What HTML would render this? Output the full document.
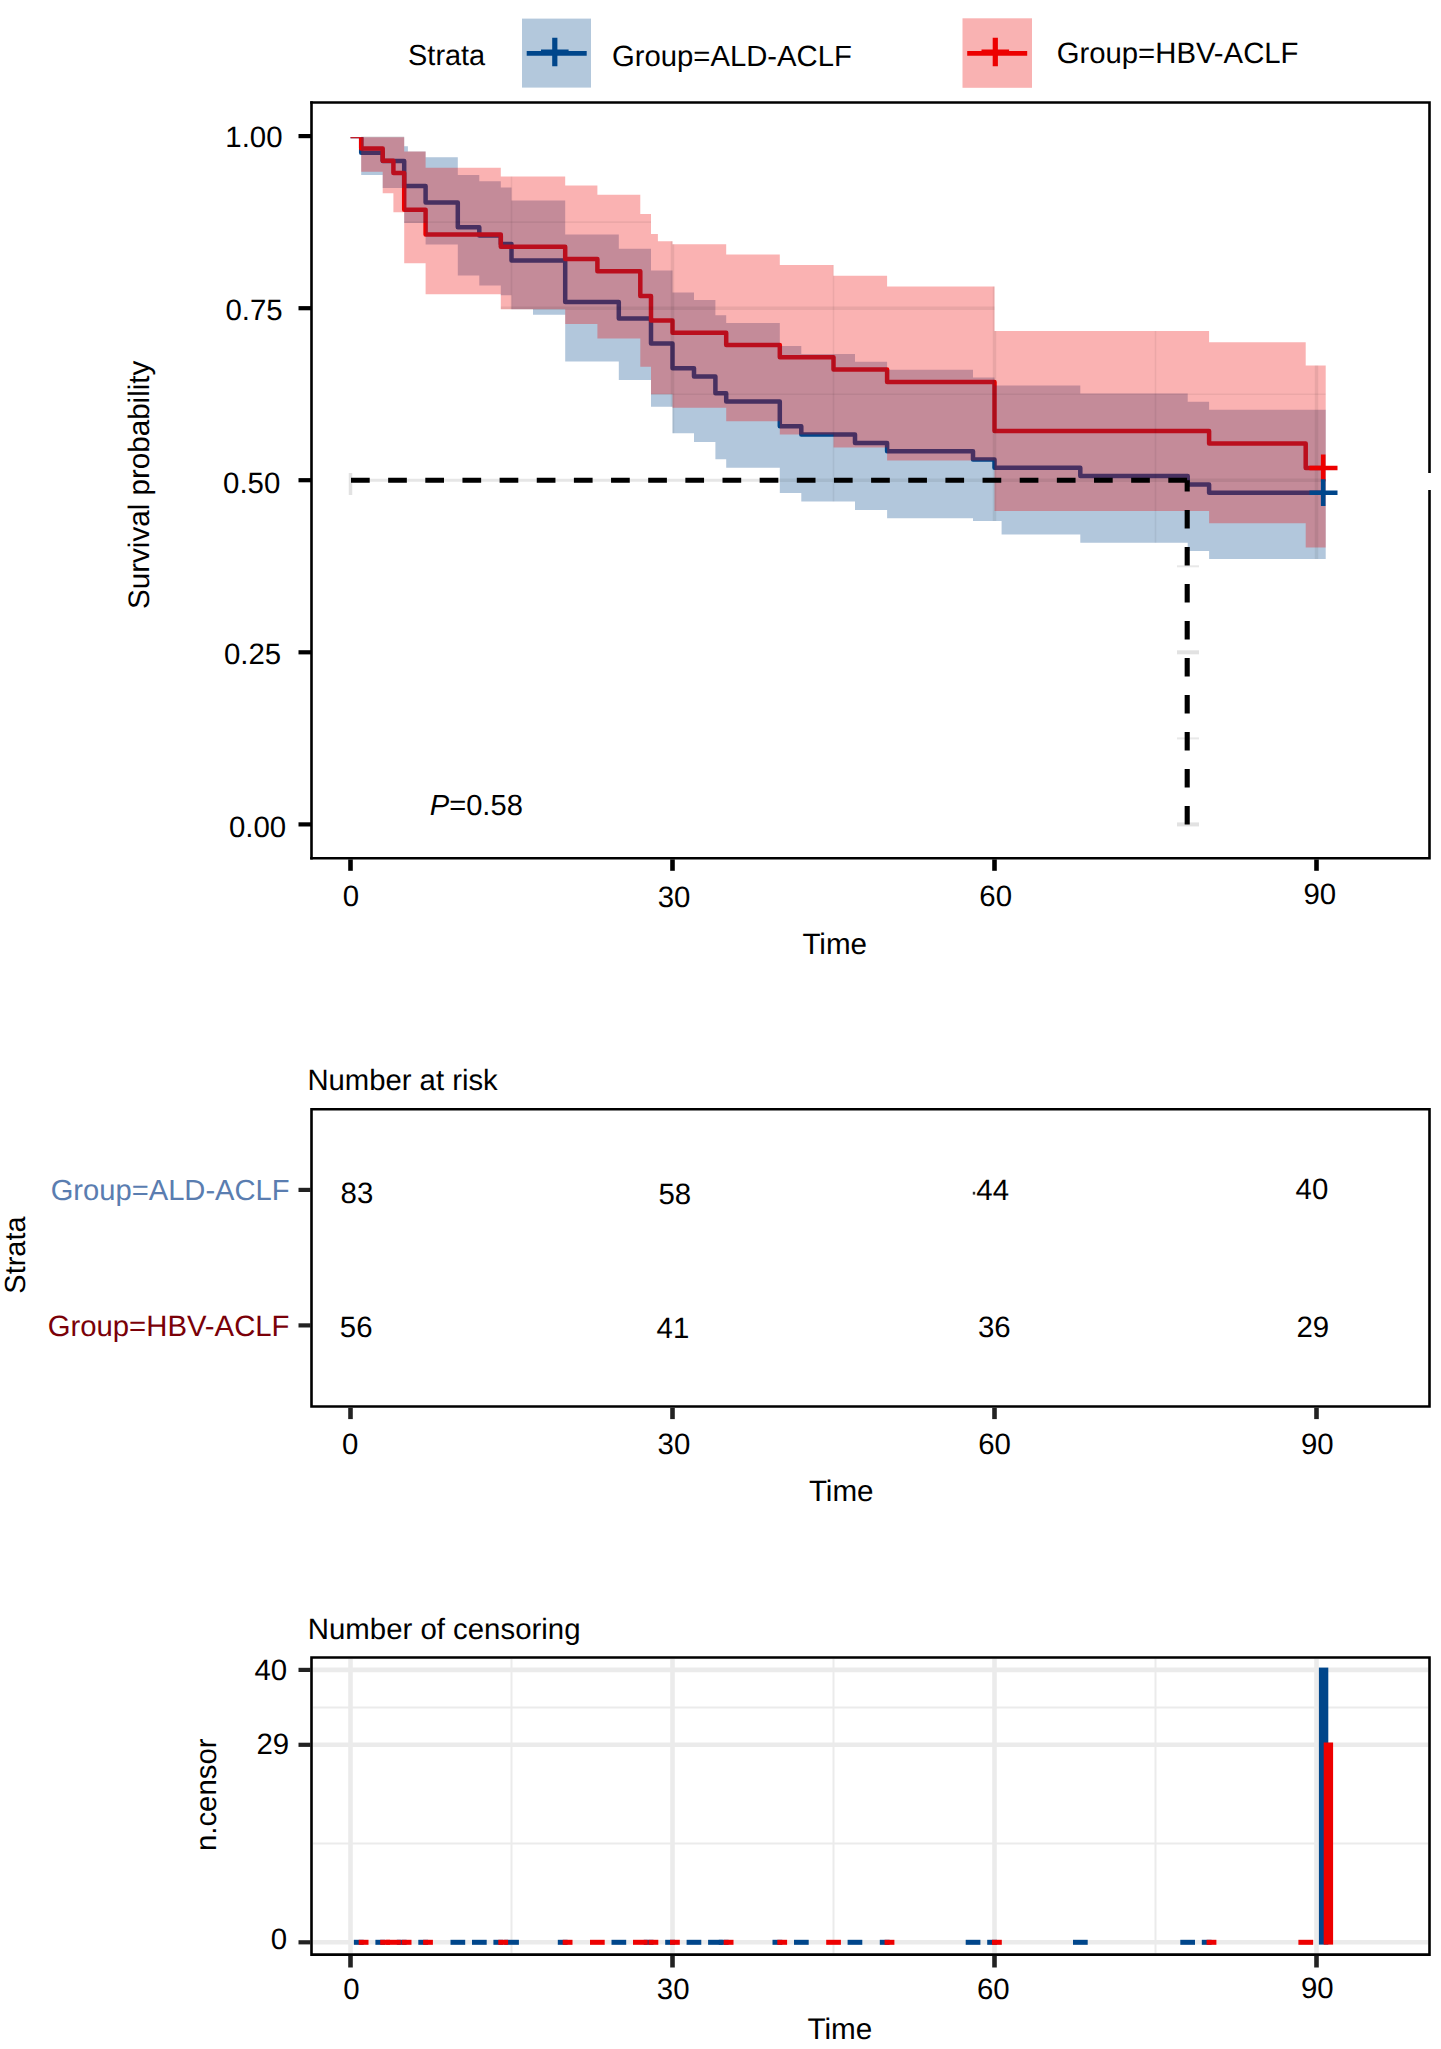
<!DOCTYPE html>
<html><head><meta charset="utf-8"><title>Survival plot</title>
<style>html,body{margin:0;padding:0;background:#fff;width:1441px;height:2049px;overflow:hidden;position:relative;font-family:"Liberation Sans",sans-serif;}
svg text{text-rendering:geometricPrecision;}</style>
</head><body>
<svg width="1441" height="2049" viewBox="0 0 1441 2049" style="position:absolute;left:0;top:0">
<rect x="0" y="0" width="1441" height="2049" fill="#ffffff"/>
<rect x="522" y="18.6" width="69" height="69" fill="#B3C8DC"/>
<rect x="962.5" y="18.3" width="69.5" height="69.5" fill="#F9B2B2"/>
<path d="M526.7,53.4H586.7" stroke="#00468B" stroke-width="4.6"/>
<path d="M541,52.2H568.6 M554.8,37.8V66.2" stroke="#00468B" stroke-width="5.2"/>
<path d="M967.2,53.4H1027.2" stroke="#ED0000" stroke-width="4.6"/>
<path d="M981.5,52.2H1009.1 M995.3,37.8V66.2" stroke="#ED0000" stroke-width="5.2"/>
<defs><clipPath id="bandclip"><path d="M350.5,136.1L361.2,136.1L361.2,136.1L382.7,136.1L382.7,136.1L404.2,136.1L404.2,146.3L407.9,146.3L407.9,151.4L425.6,151.4L425.6,157.2L457.8,157.2L457.8,174.9L479.3,174.9L479.3,181.2L500.8,181.2L500.8,187.5L511.5,187.5L511.5,200.5L533,200.5L533,200.5L565.2,200.5L565.2,234.6L618.8,234.6L618.8,248.8L651,248.8L651,270.5L672.5,270.5L672.5,292.6L694,292.6L694,300.1L715.4,300.1L715.4,315.3L726.2,315.3L726.2,322.9L779.8,322.9L779.8,346.1L801.3,346.1L801.3,353.9L855,353.9L855,361.7L887.1,361.7L887.1,369.7L973,369.7L973,377.6L994.5,377.6L994.5,385.6L1001.6,385.6L1001.6,385.6L1080.3,385.6L1080.3,393.6L1187.7,393.6L1187.7,401.7L1209.1,401.7L1209.1,409.8L1325.7,409.8L1325.7,559L1209.1,559L1209.1,550.9L1187.7,550.9L1187.7,542.8L1080.3,542.8L1080.3,534.6L1001.6,534.6L1001.6,521.1L994.5,521.1L994.5,521.1L973,521.1L973,518.2L887.1,518.2L887.1,509.9L855,509.9L855,501.5L801.3,501.5L801.3,493.1L779.8,493.1L779.8,467.7L726.2,467.7L726.2,459.2L715.4,459.2L715.4,441.9L694,441.9L694,433.2L672.5,433.2L672.5,406.8L651,406.8L651,379.9L618.8,379.9L618.8,361.6L565.2,361.6L565.2,314.7L533,314.7L533,309.2L511.5,309.2L511.5,295.3L500.8,295.3L500.8,285.5L479.3,285.5L479.3,275.5L457.8,275.5L457.8,244.6L425.6,244.6L425.6,223.1L407.9,223.1L407.9,223.1L404.2,223.1L404.2,188L382.7,188L382.7,175L361.2,175L361.2,136.1L350.5,136.1Z"/><path d="M350.5,136.1L361.2,136.1L361.2,136.1L382.7,136.1L382.7,136.1L393.4,136.1L393.4,136.1L404.2,136.1L404.2,151.5L425.6,151.5L425.6,167.8L500.8,167.8L500.8,176.6L565.2,176.6L565.2,185.6L597.4,185.6L597.4,194.8L640.3,194.8L640.3,214L651,214L651,234L657.9,234L657.9,241.2L672.5,241.2L672.5,244.2L726.2,244.2L726.2,254.6L779.8,254.6L779.8,265.1L833.5,265.1L833.5,275.7L887.1,275.7L887.1,286.5L994.5,286.5L994.5,330.9L1209.1,330.9L1209.1,342.3L1305.7,342.3L1305.7,365.5L1325.7,365.5L1325.7,547.6L1305.7,547.6L1305.7,523.2L1209.1,523.2L1209.1,510.9L994.5,510.9L994.5,460.4L887.1,460.4L887.1,447.5L833.5,447.5L833.5,434.4L779.8,434.4L779.8,421.2L726.2,421.2L726.2,407.8L672.5,407.8L672.5,394.3L657.9,394.3L657.9,394.3L651,394.3L651,366.8L640.3,366.8L640.3,338.5L597.4,338.5L597.4,324L565.2,324L565.2,309.3L500.8,309.3L500.8,294.3L425.6,294.3L425.6,263.2L404.2,263.2L404.2,212.3L393.4,212.3L393.4,193.3L382.7,193.3L382.7,171.8L361.2,171.8L361.2,136.1L350.5,136.1Z"/></clipPath><clipPath id="topclip"><rect x="313" y="137.3" width="1115" height="719"/></clipPath></defs>
<path d="M350.5,480.2H779.8" stroke="#e6e6e6" stroke-width="3"/>
<g clip-path="url(#topclip)">
<path d="M350.5,136.1H361.2V152.7H382.7V161H404.2V185.9H425.6V202.4H457.8V227.3H479.3V235.6H500.8V243.9H511.5V260.5H565.2V302H618.8V318.5H651V343.4H672.5V368.3H694V376.6H715.4V393.2H726.2V401.5H779.8V426.3H801.3V434.6H855V442.9H887.1V451.2H973V459.5H994.5V467.8H1080.3V476.1H1187.7V484.4H1209.1V492.7H1324" fill="none" stroke="#00468B" stroke-width="4.5" stroke-linejoin="round" stroke-linecap="butt"/>
<path d="M350.5,136.1H361.2V148.4H382.7V160.7H393.4V173H404.2V209.8H425.6V234.4H500.8V246.7H565.2V259H597.4V271.3H640.3V295.9H651V320.5H672.5V332.8H726.2V345H779.8V357.3H833.5V369.6H887.1V381.9H994.5V431.1H1209.1V443.4H1305.7V468H1324" fill="none" stroke="#ED0000" stroke-width="4.5" stroke-linejoin="round" stroke-linecap="butt"/>
<path d="M350.5,136.1L361.2,136.1L361.2,136.1L382.7,136.1L382.7,136.1L404.2,136.1L404.2,146.3L407.9,146.3L407.9,151.4L425.6,151.4L425.6,157.2L457.8,157.2L457.8,174.9L479.3,174.9L479.3,181.2L500.8,181.2L500.8,187.5L511.5,187.5L511.5,200.5L533,200.5L533,200.5L565.2,200.5L565.2,234.6L618.8,234.6L618.8,248.8L651,248.8L651,270.5L672.5,270.5L672.5,292.6L694,292.6L694,300.1L715.4,300.1L715.4,315.3L726.2,315.3L726.2,322.9L779.8,322.9L779.8,346.1L801.3,346.1L801.3,353.9L855,353.9L855,361.7L887.1,361.7L887.1,369.7L973,369.7L973,377.6L994.5,377.6L994.5,385.6L1001.6,385.6L1001.6,385.6L1080.3,385.6L1080.3,393.6L1187.7,393.6L1187.7,401.7L1209.1,401.7L1209.1,409.8L1325.7,409.8L1325.7,559L1209.1,559L1209.1,550.9L1187.7,550.9L1187.7,542.8L1080.3,542.8L1080.3,534.6L1001.6,534.6L1001.6,521.1L994.5,521.1L994.5,521.1L973,521.1L973,518.2L887.1,518.2L887.1,509.9L855,509.9L855,501.5L801.3,501.5L801.3,493.1L779.8,493.1L779.8,467.7L726.2,467.7L726.2,459.2L715.4,459.2L715.4,441.9L694,441.9L694,433.2L672.5,433.2L672.5,406.8L651,406.8L651,379.9L618.8,379.9L618.8,361.6L565.2,361.6L565.2,314.7L533,314.7L533,309.2L511.5,309.2L511.5,295.3L500.8,295.3L500.8,285.5L479.3,285.5L479.3,275.5L457.8,275.5L457.8,244.6L425.6,244.6L425.6,223.1L407.9,223.1L407.9,223.1L404.2,223.1L404.2,188L382.7,188L382.7,175L361.2,175L361.2,136.1L350.5,136.1Z" fill="#00468B" fill-opacity="0.3"/>
<path d="M350.5,136.1L361.2,136.1L361.2,136.1L382.7,136.1L382.7,136.1L393.4,136.1L393.4,136.1L404.2,136.1L404.2,151.5L425.6,151.5L425.6,167.8L500.8,167.8L500.8,176.6L565.2,176.6L565.2,185.6L597.4,185.6L597.4,194.8L640.3,194.8L640.3,214L651,214L651,234L657.9,234L657.9,241.2L672.5,241.2L672.5,244.2L726.2,244.2L726.2,254.6L779.8,254.6L779.8,265.1L833.5,265.1L833.5,275.7L887.1,275.7L887.1,286.5L994.5,286.5L994.5,330.9L1209.1,330.9L1209.1,342.3L1305.7,342.3L1305.7,365.5L1325.7,365.5L1325.7,547.6L1305.7,547.6L1305.7,523.2L1209.1,523.2L1209.1,510.9L994.5,510.9L994.5,460.4L887.1,460.4L887.1,447.5L833.5,447.5L833.5,434.4L779.8,434.4L779.8,421.2L726.2,421.2L726.2,407.8L672.5,407.8L672.5,394.3L657.9,394.3L657.9,394.3L651,394.3L651,366.8L640.3,366.8L640.3,338.5L597.4,338.5L597.4,324L565.2,324L565.2,309.3L500.8,309.3L500.8,294.3L425.6,294.3L425.6,263.2L404.2,263.2L404.2,212.3L393.4,212.3L393.4,193.3L382.7,193.3L382.7,171.8L361.2,171.8L361.2,136.1L350.5,136.1Z" fill="#ED0000" fill-opacity="0.3"/>
</g>
<g clip-path="url(#bandclip)"><path d="M313,824.4H1428" stroke="#000" stroke-opacity="0.07" stroke-width="3.5"/><path d="M313,652.3H1428" stroke="#000" stroke-opacity="0.07" stroke-width="3.5"/><path d="M313,480.2H1428" stroke="#000" stroke-opacity="0.07" stroke-width="3.5"/><path d="M313,308.2H1428" stroke="#000" stroke-opacity="0.07" stroke-width="3.5"/><path d="M313,136.1H1428" stroke="#000" stroke-opacity="0.07" stroke-width="3.5"/><path d="M313,738.4H1428" stroke="#000" stroke-opacity="0.06" stroke-width="1.6"/><path d="M313,566.3H1428" stroke="#000" stroke-opacity="0.06" stroke-width="1.6"/><path d="M313,394.2H1428" stroke="#000" stroke-opacity="0.06" stroke-width="1.6"/><path d="M313,222.1H1428" stroke="#000" stroke-opacity="0.06" stroke-width="1.6"/><path d="M350.5,104V856" stroke="#000" stroke-opacity="0.07" stroke-width="3.5"/><path d="M672.5,104V856" stroke="#000" stroke-opacity="0.07" stroke-width="3.5"/><path d="M994.5,104V856" stroke="#000" stroke-opacity="0.07" stroke-width="3.5"/><path d="M1316.5,104V856" stroke="#000" stroke-opacity="0.07" stroke-width="3.5"/><path d="M511.5,104V856" stroke="#000" stroke-opacity="0.06" stroke-width="1.6"/><path d="M833.5,104V856" stroke="#000" stroke-opacity="0.06" stroke-width="1.6"/><path d="M1155.5,104V856" stroke="#000" stroke-opacity="0.06" stroke-width="1.6"/></g>
<path d="M1177,652.3H1199" stroke="#e2e2e2" stroke-width="4"/>
<path d="M1177,824.4H1199" stroke="#e2e2e2" stroke-width="4"/>
<path d="M1177,566.3H1199" stroke="#e8e8e8" stroke-width="2"/>
<path d="M1177,738.4H1199" stroke="#e8e8e8" stroke-width="2"/>
<path d="M350.5,473V495" stroke="#e2e2e2" stroke-width="3.5"/>
<path d="M351,480.2H1188.2" stroke="#000" stroke-width="5.1" stroke-dasharray="18.7,18.45"/>
<path d="M1187.2,824.4V480.2" stroke="#000" stroke-width="5.1" stroke-dasharray="18.5,18.5"/>
<path d="M1309.5,468H1337.5 M1323.2,454.5V481.2" stroke="#ED0000" stroke-width="4.6"/>
<path d="M1309.5,492.7H1337.5 M1323.2,479.2V505.9" stroke="#00468B" stroke-width="4.6"/>
<path d="M310.2,102.5H1429.5V473 M1429.5,490V858.3H310.2" fill="none" stroke="#000" stroke-width="2.6"/>
<path d="M311.5,101.2V859.6" stroke="#000" stroke-width="2.6"/>
<path d="M298.5,824.4H311" stroke="#000" stroke-width="4.2"/>
<path d="M298.5,652.3H311" stroke="#000" stroke-width="4.2"/>
<path d="M298.5,480.2H311" stroke="#000" stroke-width="4.2"/>
<path d="M298.5,308.2H311" stroke="#000" stroke-width="4.2"/>
<path d="M298.5,136.1H311" stroke="#000" stroke-width="4.2"/>
<path d="M350.5,859.4V870.8" stroke="#000" stroke-width="4.6"/>
<path d="M672.5,859.4V870.8" stroke="#000" stroke-width="4.6"/>
<path d="M994.5,859.4V870.8" stroke="#000" stroke-width="4.6"/>
<path d="M1316.5,859.4V870.8" stroke="#000" stroke-width="4.6"/>
<path d="M311.5,1109.3H1429.5V1406.5H311.5Z" fill="none" stroke="#000" stroke-width="2.6"/>
<path d="M298.5,1189.9H311" stroke="#222" stroke-width="4.2"/>
<path d="M298.5,1325.4H311" stroke="#222" stroke-width="4.2"/>
<path d="M350.5,1407.8V1419.1" stroke="#222" stroke-width="4.6"/>
<path d="M672.5,1407.8V1419.1" stroke="#222" stroke-width="4.6"/>
<path d="M994.5,1407.8V1419.1" stroke="#222" stroke-width="4.6"/>
<path d="M1316.5,1407.8V1419.1" stroke="#222" stroke-width="4.6"/>
<path d="M313,1942.3H1428" stroke="#EBEBEB" stroke-width="4.6"/>
<path d="M313,1744.8H1428" stroke="#EBEBEB" stroke-width="4.6"/>
<path d="M313,1669.9H1428" stroke="#EBEBEB" stroke-width="4.6"/>
<path d="M313,1843.6H1428" stroke="#EBEBEB" stroke-width="2"/>
<path d="M313,1707.4H1428" stroke="#EBEBEB" stroke-width="2"/>
<path d="M350.5,1659V1953" stroke="#EBEBEB" stroke-width="4.6"/>
<path d="M672.5,1659V1953" stroke="#EBEBEB" stroke-width="4.6"/>
<path d="M994.5,1659V1953" stroke="#EBEBEB" stroke-width="4.6"/>
<path d="M1316.5,1659V1953" stroke="#EBEBEB" stroke-width="4.6"/>
<path d="M511.5,1659V1953" stroke="#EBEBEB" stroke-width="2"/>
<path d="M833.5,1659V1953" stroke="#EBEBEB" stroke-width="2"/>
<path d="M1155.5,1659V1953" stroke="#EBEBEB" stroke-width="2"/>
<rect x="356.4" y="1942.3" width="4.8" height="0.01" fill="#00468B" stroke="#00468B" stroke-width="5"/>
<rect x="377.9" y="1942.3" width="4.8" height="0.01" fill="#00468B" stroke="#00468B" stroke-width="5"/>
<rect x="399.3" y="1942.3" width="4.8" height="0.01" fill="#00468B" stroke="#00468B" stroke-width="5"/>
<rect x="420.8" y="1942.3" width="4.8" height="0.01" fill="#00468B" stroke="#00468B" stroke-width="5"/>
<rect x="453" y="1942.3" width="9.7" height="0.01" fill="#00468B" stroke="#00468B" stroke-width="5"/>
<rect x="474.5" y="1942.3" width="9.7" height="0.01" fill="#00468B" stroke="#00468B" stroke-width="5"/>
<rect x="495.9" y="1942.3" width="4.8" height="0.01" fill="#00468B" stroke="#00468B" stroke-width="5"/>
<rect x="506.7" y="1942.3" width="9.7" height="0.01" fill="#00468B" stroke="#00468B" stroke-width="5"/>
<rect x="560.3" y="1942.3" width="4.8" height="0.01" fill="#00468B" stroke="#00468B" stroke-width="5"/>
<rect x="614" y="1942.3" width="9.7" height="0.01" fill="#00468B" stroke="#00468B" stroke-width="5"/>
<rect x="646.2" y="1942.3" width="4.8" height="0.01" fill="#00468B" stroke="#00468B" stroke-width="5"/>
<rect x="667.7" y="1942.3" width="4.8" height="0.01" fill="#00468B" stroke="#00468B" stroke-width="5"/>
<rect x="689.1" y="1942.3" width="9.7" height="0.01" fill="#00468B" stroke="#00468B" stroke-width="5"/>
<rect x="710.6" y="1942.3" width="9.7" height="0.01" fill="#00468B" stroke="#00468B" stroke-width="5"/>
<rect x="721.3" y="1942.3" width="4.8" height="0.01" fill="#00468B" stroke="#00468B" stroke-width="5"/>
<rect x="775" y="1942.3" width="4.8" height="0.01" fill="#00468B" stroke="#00468B" stroke-width="5"/>
<rect x="796.5" y="1942.3" width="9.7" height="0.01" fill="#00468B" stroke="#00468B" stroke-width="5"/>
<rect x="850.1" y="1942.3" width="9.7" height="0.01" fill="#00468B" stroke="#00468B" stroke-width="5"/>
<rect x="882.3" y="1942.3" width="4.8" height="0.01" fill="#00468B" stroke="#00468B" stroke-width="5"/>
<rect x="968.2" y="1942.3" width="9.7" height="0.01" fill="#00468B" stroke="#00468B" stroke-width="5"/>
<rect x="989.7" y="1942.3" width="4.8" height="0.01" fill="#00468B" stroke="#00468B" stroke-width="5"/>
<rect x="1075.5" y="1942.3" width="9.7" height="0.01" fill="#00468B" stroke="#00468B" stroke-width="5"/>
<rect x="1182.8" y="1942.3" width="9.7" height="0.01" fill="#00468B" stroke="#00468B" stroke-width="5"/>
<rect x="1204.3" y="1942.3" width="4.8" height="0.01" fill="#00468B" stroke="#00468B" stroke-width="5"/>
<rect x="361.2" y="1942.3" width="4.8" height="0.01" fill="#ED0000" stroke="#ED0000" stroke-width="5"/>
<rect x="382.7" y="1942.3" width="4.8" height="0.01" fill="#ED0000" stroke="#ED0000" stroke-width="5"/>
<rect x="388.6" y="1942.3" width="9.7" height="0.01" fill="#ED0000" stroke="#ED0000" stroke-width="5"/>
<rect x="404.2" y="1942.3" width="4.8" height="0.01" fill="#ED0000" stroke="#ED0000" stroke-width="5"/>
<rect x="425.6" y="1942.3" width="4.8" height="0.01" fill="#ED0000" stroke="#ED0000" stroke-width="5"/>
<rect x="500.8" y="1942.3" width="4.8" height="0.01" fill="#ED0000" stroke="#ED0000" stroke-width="5"/>
<rect x="565.2" y="1942.3" width="4.8" height="0.01" fill="#ED0000" stroke="#ED0000" stroke-width="5"/>
<rect x="592.5" y="1942.3" width="9.7" height="0.01" fill="#ED0000" stroke="#ED0000" stroke-width="5"/>
<rect x="635.5" y="1942.3" width="9.7" height="0.01" fill="#ED0000" stroke="#ED0000" stroke-width="5"/>
<rect x="651" y="1942.3" width="4.8" height="0.01" fill="#ED0000" stroke="#ED0000" stroke-width="5"/>
<rect x="672.5" y="1942.3" width="4.8" height="0.01" fill="#ED0000" stroke="#ED0000" stroke-width="5"/>
<rect x="726.2" y="1942.3" width="4.8" height="0.01" fill="#ED0000" stroke="#ED0000" stroke-width="5"/>
<rect x="779.8" y="1942.3" width="4.8" height="0.01" fill="#ED0000" stroke="#ED0000" stroke-width="5"/>
<rect x="828.7" y="1942.3" width="9.7" height="0.01" fill="#ED0000" stroke="#ED0000" stroke-width="5"/>
<rect x="887.1" y="1942.3" width="4.8" height="0.01" fill="#ED0000" stroke="#ED0000" stroke-width="5"/>
<rect x="994.5" y="1942.3" width="4.8" height="0.01" fill="#ED0000" stroke="#ED0000" stroke-width="5"/>
<rect x="1209.1" y="1942.3" width="4.8" height="0.01" fill="#ED0000" stroke="#ED0000" stroke-width="5"/>
<rect x="1300.9" y="1942.3" width="9.7" height="0.01" fill="#ED0000" stroke="#ED0000" stroke-width="5"/>
<rect x="1321.2" y="1669.9" width="4.8" height="272.4" fill="#00468B" stroke="#00468B" stroke-width="4.6"/>
<rect x="1326" y="1744.8" width="4.8" height="197.5" fill="#ED0000" stroke="#ED0000" stroke-width="4.6"/>
<path d="M311.5,1657.5H1429.5V1954.6H311.5Z" fill="none" stroke="#000" stroke-width="2.6"/>
<path d="M298.5,1942.3H311" stroke="#222" stroke-width="4.2"/>
<path d="M298.5,1744.8H311" stroke="#222" stroke-width="4.2"/>
<path d="M298.5,1669.9H311" stroke="#222" stroke-width="4.2"/>
<path d="M350.5,1955.8V1967.5" stroke="#222" stroke-width="4.6"/>
<path d="M672.5,1955.8V1967.5" stroke="#222" stroke-width="4.6"/>
<path d="M994.5,1955.8V1967.5" stroke="#222" stroke-width="4.6"/>
<path d="M1316.5,1955.8V1967.5" stroke="#222" stroke-width="4.6"/>
<rect x="972.8" y="1191.8" width="2.4" height="2.8" fill="#333"/>
<g font-family="Liberation Sans, sans-serif" fill="#000">
<text x="408.10" y="64.90" font-size="28.90">Strata</text>
<text x="612.00" y="66.00" font-size="29.25">Group=ALD-ACLF</text>
<text x="1056.70" y="63.00" font-size="29.30">Group=HBV-ACLF</text>
<text x="225.30" y="146.90" font-size="29.40">1.00</text>
<text x="225.50" y="319.90" font-size="29.40">0.75</text>
<text x="223.10" y="492.60" font-size="29.40">0.50</text>
<text x="224.00" y="663.90" font-size="29.40">0.25</text>
<text x="229.00" y="836.60" font-size="29.40">0.00</text>
<text x="342.70" y="905.50" font-size="29.40">0</text>
<text x="657.70" y="906.50" font-size="29.40">30</text>
<text x="979.30" y="906.40" font-size="29.40">60</text>
<text x="1303.40" y="904.00" font-size="29.40">90</text>
<text x="802.40" y="953.90" font-size="29.60">Time</text>
<text transform="translate(149.30,609.00) rotate(-90)" font-size="29.60">Survival probability</text>
<text x="429.80" y="814.90" font-size="29.10"><tspan font-style="italic">P</tspan>=0.58</text>
<text x="307.40" y="1090.00" font-size="29.28">Number at risk</text>
<text x="50.70" y="1200.00" font-size="29.15" fill="#5A7DB0">Group=ALD-ACLF</text>
<text x="47.70" y="1336.00" font-size="29.30" fill="#7A0008">Group=HBV-ACLF</text>
<text transform="translate(25.20,1293.70) rotate(-90)" font-size="29.00">Strata</text>
<text x="340.60" y="1202.90" font-size="29.40">83</text>
<text x="658.50" y="1203.60" font-size="29.40">58</text>
<text x="976.30" y="1199.90" font-size="29.40">44</text>
<text x="1295.60" y="1199.40" font-size="29.40">40</text>
<text x="339.80" y="1336.50" font-size="29.40">56</text>
<text x="656.60" y="1337.90" font-size="29.40">41</text>
<text x="978.00" y="1336.90" font-size="29.40">36</text>
<text x="1296.50" y="1336.90" font-size="29.40">29</text>
<text x="342.10" y="1454.10" font-size="29.40">0</text>
<text x="657.60" y="1453.60" font-size="29.40">30</text>
<text x="978.20" y="1454.20" font-size="29.40">60</text>
<text x="1301.00" y="1454.20" font-size="29.40">90</text>
<text x="808.90" y="1500.90" font-size="29.60">Time</text>
<text x="307.80" y="1639.00" font-size="29.39">Number of censoring</text>
<text x="254.50" y="1679.60" font-size="29.40">40</text>
<text x="256.40" y="1754.20" font-size="29.40">29</text>
<text x="270.70" y="1949.30" font-size="29.40">0</text>
<text transform="translate(215.90,1851.10) rotate(-90)" font-size="29.40">n.censor</text>
<text x="343.20" y="1998.90" font-size="29.40">0</text>
<text x="656.80" y="1998.90" font-size="29.40">30</text>
<text x="977.00" y="1998.90" font-size="29.40">60</text>
<text x="1301.00" y="1998.40" font-size="29.40">90</text>
<text x="807.40" y="2038.90" font-size="29.70">Time</text>
</g>
</svg>
</body></html>
